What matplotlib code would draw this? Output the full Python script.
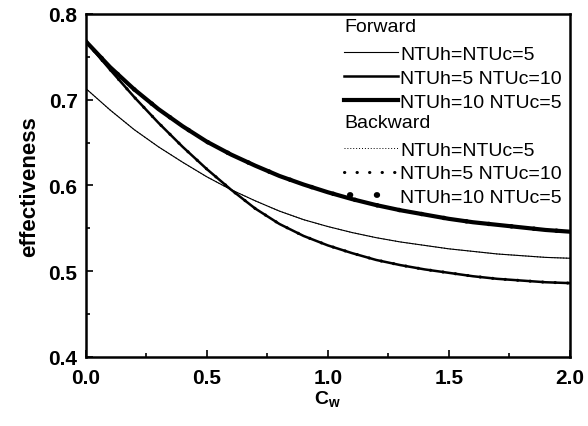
import numpy as np
import matplotlib
matplotlib.use("Agg")
import matplotlib.pyplot as plt
from matplotlib.lines import Line2D
from matplotlib.text import Text
from matplotlib.ticker import MultipleLocator, FormatStrFormatter

plt.rcParams['font.family'] = ['Liberation Sans', 'DejaVu Sans']
plt.rcParams['mathtext.fontset'] = 'custom'
plt.rcParams['mathtext.bf'] = 'Liberation Sans:bold'
plt.rcParams['mathtext.rm'] = 'Liberation Sans'

cw = [0.0, 0.1, 0.2, 0.3, 0.4, 0.5, 0.6, 0.7, 0.8, 0.9, 1.0,
      1.1, 1.2, 1.3, 1.4, 1.5, 1.6, 1.7, 1.8, 1.9, 2.0]

# forward
eff_5_5 = [0.713, 0.688, 0.665, 0.645, 0.627, 0.610, 0.595, 0.582, 0.570, 0.560, 0.552,
           0.545, 0.539, 0.534, 0.530, 0.526, 0.523, 0.520, 0.518, 0.516, 0.515]
eff_5_10 = [0.768, 0.735, 0.703, 0.673, 0.645, 0.619, 0.595, 0.573, 0.555, 0.541, 0.530,
            0.521, 0.513, 0.507, 0.502, 0.498, 0.494, 0.491, 0.489, 0.487, 0.486]
eff_10_5 = [0.768, 0.738, 0.712, 0.689, 0.669, 0.651, 0.636, 0.623, 0.611, 0.601, 0.592,
            0.584, 0.577, 0.571, 0.566, 0.561, 0.557, 0.554, 0.551, 0.548, 0.546]

# backward (coincides with forward)
bwd_5_5 = eff_5_5
bwd_5_10 = eff_5_10
bwd_10_5 = eff_10_5


class Header(str):
    pass


class HeaderHandler:
    def legend_artist(self, legend, orig_handle, fontsize, handlebox):
        t = Text(0, 0, str(orig_handle), fontsize=fontsize, va='bottom', ha='left',
                 fontfamily='Liberation Sans')
        handlebox.add_artist(t)
        return t


fig = plt.figure(figsize=(5.88, 4.27), dpi=100)
ax = fig.add_axes([0.146, 0.162, 0.823, 0.803])

l1, = ax.plot(cw, eff_5_5, color='black', lw=0.8)
l2, = ax.plot(cw, eff_5_10, color='black', lw=1.8)
l3, = ax.plot(cw, eff_10_5, color='black', lw=3.0)
b1, = ax.plot(cw, bwd_5_5, color='black', lw=0.7, linestyle=(0, (1, 2)))
b2, = ax.plot(cw, bwd_5_10, color='black', lw=2.2, linestyle=(0, (0.1, 4)),
              dash_capstyle='round')
ax.plot(cw, bwd_10_5, color='black', lw=3.2, linestyle=(0, (0.1, 5)),
        dash_capstyle='round')
# legend proxy for the backward NTUh=10 case (larger dots)
b3 = Line2D([], [], color='black', lw=4.2, linestyle=(3.6, (0.1, 4.5)),
            dash_capstyle='round')

ax.set_xlim(0, 2.0)
ax.set_ylim(0.4, 0.8)
ax.xaxis.set_major_locator(MultipleLocator(0.5))
ax.xaxis.set_minor_locator(MultipleLocator(0.25))
ax.yaxis.set_major_locator(MultipleLocator(0.1))
ax.yaxis.set_minor_locator(MultipleLocator(0.05))
ax.xaxis.set_major_formatter(FormatStrFormatter('%.1f'))
ax.yaxis.set_major_formatter(FormatStrFormatter('%.1f'))
ax.tick_params(which='both', direction='in', width=1.2)
ax.tick_params(which='major', length=5, labelsize=15)
ax.tick_params(axis='x', which='major', pad=8)
ax.tick_params(axis='y', which='major', pad=6)
ax.tick_params(which='minor', length=3)
for lab in ax.get_xticklabels() + ax.get_yticklabels():
    lab.set_fontweight('bold')
for sp in ax.spines.values():
    sp.set_linewidth(1.8)

ax.set_ylabel('effectiveness', fontsize=16, fontweight='bold', labelpad=6)
ax.set_xlabel(r'$\mathbf{C}_{\mathbf{w}}$', fontsize=14, labelpad=1)

handles = [Header('Forward'), l1, l2, l3, Header('Backward'), b1, b2, b3]
labels = ['', 'NTUh=NTUc=5', 'NTUh=5 NTUc=10', 'NTUh=10 NTUc=5',
          '', 'NTUh=NTUc=5', 'NTUh=5 NTUc=10', 'NTUh=10 NTUc=5']
ax.legend(handles, labels, handler_map={Header: HeaderHandler()},
          loc='upper right', frameon=False, fontsize=14, handlelength=2.8,
          handletextpad=0.1, labelspacing=0.32, borderaxespad=0.0,
          bbox_to_anchor=(1.0, 1.0))

fig.savefig('out.png', dpi=100)
